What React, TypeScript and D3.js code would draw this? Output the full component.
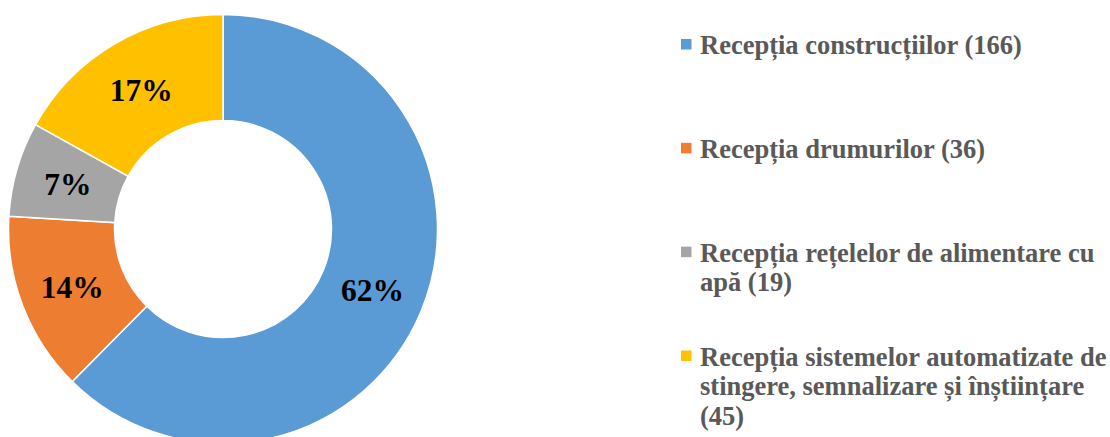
import React, { useEffect, useRef } from 'react';
import * as d3 from 'd3';

// categories (legend lines are pre-wrapped like in the source chart)
const categories = [
  'Recepția construcțiilor (166)',
  'Recepția drumurilor (36)',
  'Recepția rețelelor de alimentare cu apă (19)',
  'Recepția sistemelor automatizate de stingere, semnalizare și înștiințare (45)',
];
const legendLines = [
  ['Recepția construcțiilor (166)'],
  ['Recepția drumurilor (36)'],
  ['Recepția rețelelor de alimentare cu', 'apă (19)'],
  ['Recepția sistemelor automatizate de', 'stingere, semnalizare și înștiințare', '(45)'],
];
const values = [166, 36, 19, 45];
const colors = ['#5B9BD5', '#ED7D31', '#A5A5A5', '#FFC000'];

const W = 1110;
const H = 437;
const FONT = '"Liberation Serif", "Times New Roman", serif';

const App: React.FC = () => {
  const ref = useRef<SVGSVGElement>(null);

  useEffect(() => {
    if (!ref.current) return;
    const svg = d3.select(ref.current);
    svg.selectAll('*').remove();

    const cx = 223;
    const cy = 229;
    const outer = 214.5;
    const inner = 108.5;
    const total = d3.sum(values);

    const pie = d3.pie<number>().sort(null).value(d => d);
    const arcs = pie(values);
    const arc = d3.arc<d3.PieArcDatum<number>>().innerRadius(inner).outerRadius(outer);

    const g = svg.append('g').attr('transform', `translate(${cx},${cy})`);

    g.selectAll('path')
      .data(arcs)
      .join('path')
      .attr('d', arc)
      .attr('fill', (d, i) => colors[i])
      .attr('stroke', '#ffffff')
      .attr('stroke-width', 1.5);

    g.selectAll('text.lbl')
      .data(arcs)
      .join('text')
      .attr('class', 'lbl')
      .attr('transform', d => `translate(${arc.centroid(d)})`)
      .attr('text-anchor', 'middle')
      .attr('dy', '0.35em')
      .attr('font-family', FONT)
      .attr('font-weight', 'bold')
      .attr('font-size', 31.5)
      .attr('fill', '#000000')
      .text(d => `${Math.round((d.value / total) * 100)}%`);

    // legend
    const legendX = 700;
    const legendY = d3.scaleLinear().domain([0, categories.length - 1]).range([54, 365.5]);
    const legend = svg.append('g');

    categories.forEach((c, i) => {
      const y = legendY(i);
      legend.append('rect')
        .attr('x', legendX - 19)
        .attr('y', y - 15)
        .attr('width', 10.5)
        .attr('height', 10.5)
        .attr('fill', colors[i]);

      const t = legend.append('text')
        .attr('font-family', FONT)
        .attr('font-weight', 'bold')
        .attr('font-size', 26.5)
        .attr('fill', '#595959');
      legendLines[i].forEach((line, j) => {
        t.append('tspan')
          .attr('x', legendX)
          .attr('y', y + j * 29.5)
          .text(line);
      });
    });
  }, []);

  return (
    <svg
      ref={ref}
      width={W}
      height={H}
      style={{ position: 'absolute', left: 0, top: 0, background: '#ffffff' }}
    />
  );
};

export default App;
